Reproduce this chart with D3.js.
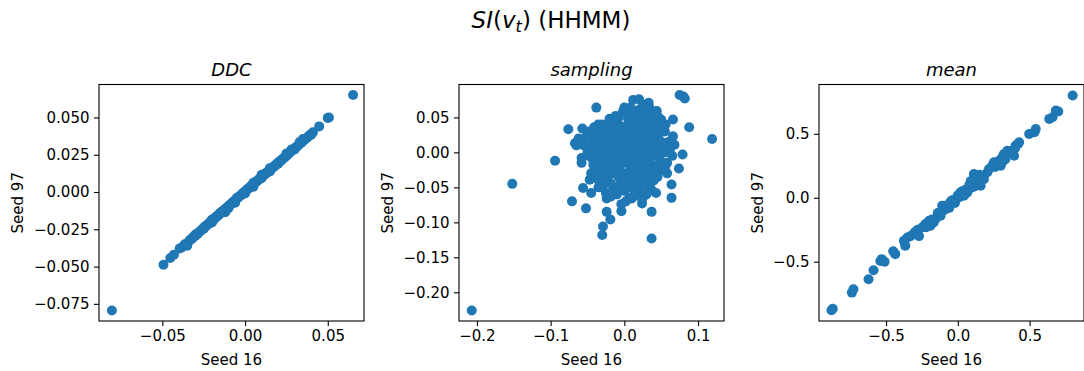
<!DOCTYPE html>
<html>
<head>
<meta charset="utf-8">
<script src="https://cdn.jsdelivr.net/npm/d3@7"></script>
<style>
  body { margin: 0; background: #fff; }
  svg { font-family: "DejaVu Sans", sans-serif; }
</style>
</head>
<body>
<figure id="fig" style="margin:0"></figure>
<script>
// panel titles and axis text
const panelTitles = ["DDC", "sampling", "mean"];
const xLabel = "Seed 16";
const yLabel = "Seed 97";

// tick values per panel
const xTicks = [[-0.05, 0, 0.05], [-0.2, -0.1, 0, 0.1], [-0.5, 0, 0.5]];
const yTicks = [
  [-0.075, -0.05, -0.025, 0, 0.025, 0.05],
  [-0.2, -0.15, -0.1, -0.05, 0, 0.05],
  [-0.5, 0, 0.5]
];
const xFormats = [".2f", ".1f", ".1f"];
const yFormats = [".3f", ".2f", ".1f"];

// visible axis ranges
const xDomains = [[-0.0883, 0.0719], [-0.2243, 0.1352], [-0.967, 0.879]];
const yDomains = [[-0.0865, 0.0721], [-0.241, 0.097], [-0.964, 0.886]];

// DDC: seed 16 vs seed 97
const ddcPoints = [
  [-0.0805,-0.0795],[-0.0493,-0.0488],[-0.0452,-0.0443],[-0.0430,-0.0420],[-0.0395,-0.0378],
  [-0.0382,-0.0372],[-0.0365,-0.0350],[-0.0352,-0.0347],[-0.0340,-0.0332],[-0.0331,-0.0318],
  [-0.0320,-0.0313],[-0.0312,-0.0300],[-0.0301,-0.0295],[-0.0293,-0.0282],[-0.0285,-0.0280],
  [-0.0276,-0.0265],[-0.0268,-0.0262],[-0.0259,-0.0250],[-0.0250,-0.0246],[-0.0243,-0.0232],
  [-0.0236,-0.0230],[-0.0228,-0.0218],[-0.0220,-0.0214],[-0.0213,-0.0203],[-0.0205,-0.0200],
  [-0.0198,-0.0190],[-0.0190,-0.0185],[-0.0183,-0.0175],[-0.0176,-0.0170],[-0.0169,-0.0160],
  [-0.0161,-0.0157],[-0.0154,-0.0146],[-0.0147,-0.0143],[-0.0140,-0.0131],[-0.0133,-0.0128],
  [-0.0125,-0.0119],[-0.0118,-0.0113],[-0.0111,-0.0104],[-0.0104,-0.0100],[-0.0097,-0.0090],
  [-0.0090,-0.0086],[-0.0082,-0.0076],[-0.0075,-0.0071],[-0.0068,-0.0062],[-0.0061,-0.0058],
  [-0.0054,-0.0047],[-0.0047,-0.0044],[-0.0040,-0.0034],[-0.0033,-0.0030],[-0.0025,-0.0020],
  [-0.0018,-0.0016],[-0.0011,-0.0005],[-0.0004,-0.0002],[0.0003,0.0008],[0.0010,0.0012],
  [0.0017,0.0022],[0.0024,0.0025],[0.0031,0.0036],[0.0038,0.0039],[0.0045,0.0050],
  [0.0052,0.0053],[0.0059,0.0063],[0.0066,0.0066],[0.0073,0.0077],[0.0080,0.0079],
  [0.0087,0.0090],[0.0094,0.0093],[0.0101,0.0104],[0.0108,0.0106],[0.0115,0.0117],
  [0.0122,0.0119],[0.0129,0.0130],[0.0136,0.0132],[0.0143,0.0144],[0.0150,0.0146],
  [0.0157,0.0157],[0.0164,0.0159],[0.0171,0.0170],[0.0178,0.0172],[0.0185,0.0183],
  [0.0192,0.0186],[0.0199,0.0196],[0.0206,0.0199],[0.0213,0.0209],[0.0220,0.0212],
  [0.0228,0.0223],[0.0236,0.0228],[0.0244,0.0238],[0.0252,0.0244],[0.0262,0.0256],
  [0.0275,0.0268],[0.0290,0.0283],[0.0300,0.0291],[0.0310,0.0303],[0.0320,0.0311],
  [0.0330,0.0322],[0.0340,0.0331],[0.0350,0.0341],[0.0362,0.0352],[0.0375,0.0364],
  [0.0387,0.0378],[0.0398,0.0388],[0.0410,0.0400],[0.0448,0.0440],[0.0500,0.0497],
  [0.0507,0.0500],[0.0653,0.0650],[-0.0120,-0.0135],[0.0050,0.0035],[0.0100,0.0115],
  [-0.0200,-0.0185],[0.0150,0.0138],[-0.0060,-0.0072],
  [-0.0300,-0.0285],[-0.0250,-0.0238],[-0.0200,-0.0205],[-0.0150,-0.0140],[-0.0100,-0.0108],
  [-0.0050,-0.0040],[0.0000,-0.0010],[0.0050,0.0062],[0.0100,0.0092],[0.0150,0.0160],
  [0.0200,0.0190],[0.0250,0.0258],[0.0300,0.0285],[0.0350,0.0355],[0.0400,0.0385],
  [-0.0350,-0.0360],[0.0330,0.0335],[0.0280,0.0285]
];

// sampling: seed 16 vs seed 97
const samplingPoints = [
  [-0.207,-0.226],[-0.152,-0.045],[-0.094,-0.012],[-0.076,0.033],[-0.038,0.064],
  [-0.071,-0.070],[-0.052,-0.080],[-0.030,-0.118],[-0.029,-0.106],[-0.024,-0.085],
  [-0.019,-0.096],[-0.004,-0.084],[0.037,-0.123],[0.037,-0.085],[0.064,-0.065],
  [0.064,-0.046],[0.074,-0.023],[0.079,-0.003],[0.088,0.036],[0.119,0.019],
  [0.075,0.082],[0.080,0.080],[0.082,0.077],[0.012,0.075],[0.020,0.076],
  [0.033,0.071],[0.066,0.047],[0.000,0.064],[0.035,-0.030],[0.034,-0.045],
  [0.033,-0.055],[0.024,-0.073],[0.010,-0.066],[-0.004,-0.074],[-0.024,-0.066],
  [-0.045,-0.058],[-0.056,-0.051],[-0.047,-0.039],[-0.058,-0.015],[-0.067,0.013],
  [-0.062,0.020],[-0.057,0.034],[-0.041,0.036],[-0.020,0.048],[0.044,0.059],
  [0.050,0.047],[0.052,0.030],[0.066,0.023],[0.068,0.011],[0.061,0.004],
  [0.055,-0.022],
  [0.000,0.000],[0.010,0.005],[-0.010,0.008],[0.005,-0.012],[-0.015,-0.005],
  [0.020,0.010],[-0.020,0.015],[0.015,-0.020],[-0.005,0.025],[0.025,-0.008],
  [-0.025,-0.015],[0.030,0.020],[-0.030,0.005],[0.008,0.030],[-0.012,-0.025],
  [0.035,-0.015],[-0.035,-0.010],[0.018,0.035],[-0.018,0.032],[0.040,0.005],
  [-0.040,0.010],[0.002,-0.030],[0.028,-0.028],[-0.028,-0.030],[0.045,0.025],
  [-0.045,0.020],[0.012,0.042],[-0.008,0.040],[0.032,0.038],[-0.032,0.028],
  [0.048,-0.010],[-0.048,-0.005],[0.022,-0.038],[-0.022,-0.040],[0.005,0.048],
  [0.038,-0.030],[-0.038,-0.025],[0.050,0.015],[-0.050,0.000],[0.015,0.050],
  [-0.002,0.015],[0.006,0.018],[-0.006,-0.018],[0.012,-0.006],[-0.012,0.002],
  [0.024,0.024],[-0.024,0.000],[0.003,0.008],[0.017,0.000],[-0.017,-0.012],
  [0.027,0.004],[-0.027,0.022],[0.009,-0.022],[-0.009,0.020],[0.036,0.012],
  [-0.036,0.018],[0.001,0.036],[0.042,-0.020],[-0.042,-0.018],[0.021,0.018],
  [-0.004,-0.008],[0.014,0.026],[-0.014,0.024],[0.031,-0.004],[-0.031,-0.020],
  [0.044,0.040],[-0.010,0.045],[0.026,0.046],[0.055,0.000],[0.055,0.030],
  [0.058,-0.015],[0.060,0.015],[-0.055,0.010],[-0.052,0.022],[-0.058,-0.008],
  [-0.045,-0.030],[-0.040,-0.035],[0.040,-0.040],[0.032,-0.045],[0.010,-0.040],
  [-0.005,-0.045],[0.000,-0.055],[0.012,-0.052],[-0.015,-0.050],[0.020,-0.055],
  [-0.028,-0.045],[0.045,-0.035],[0.050,-0.025],[0.005,0.055],[0.018,0.060],
  [0.030,0.055],[-0.002,0.058],[0.040,0.050],[-0.020,0.045],[0.048,0.045],
  [0.056,0.040],[-0.030,0.040],[0.062,0.005],[0.065,-0.005],[0.058,-0.030],
  [0.007,-0.065],[-0.010,-0.060],[0.025,-0.065],[-0.025,-0.058],[-0.035,-0.050],
  [0.036,-0.052],[0.043,-0.058],[0.002,-0.070],[-0.018,-0.063],[0.015,-0.048],
  [0.028,-0.020],[-0.008,-0.035],[0.008,-0.032],[0.033,0.030],[-0.016,0.038],
  [0.004,0.022],[0.020,0.040],[0.038,0.022],[-0.038,0.000],[-0.046,0.008],
  [0.046,-0.002],[0.052,0.008],[-0.022,-0.022],[0.016,-0.030],[-0.032,-0.035],
  [0.024,-0.046],[-0.048,0.030],[-0.060,0.018],[-0.065,0.010],[0.034,0.064],
  [0.022,0.062],[0.008,0.064],[-0.012,0.052],[0.048,0.028],[0.028,0.045],
  [-0.035,0.040],[-0.025,0.035],[-0.015,0.030],[-0.005,0.035],[0.005,0.040],
  [0.015,0.032],[0.025,0.035],[0.035,0.045],[0.042,0.032],[-0.040,0.025],
  [-0.030,0.018],[-0.020,0.022],[-0.010,0.015],[0.000,0.020],[0.010,0.018],
  [0.020,0.025],[0.030,0.010],[0.040,0.015],[0.050,0.030],[-0.045,0.002],
  [-0.035,0.008],[-0.025,0.010],[-0.015,0.005],[-0.005,0.005],[0.005,0.010],
  [0.015,0.008],[0.025,0.012],[0.035,0.002],[0.045,0.010],[-0.043,-0.010],
  [-0.033,-0.005],[-0.023,-0.008],[-0.013,-0.012],[-0.003,-0.002],[0.007,-0.005],
  [0.017,-0.010],[0.027,-0.015],[0.037,-0.005],[0.047,-0.018],[-0.040,-0.020],
  [-0.030,-0.025],[-0.020,-0.018],[-0.010,-0.020],[0.000,-0.015],[0.010,-0.025],
  [0.020,-0.020],[0.030,-0.035],[0.040,-0.025],[-0.035,-0.040],[-0.025,-0.035],
  [-0.015,-0.030],[-0.005,-0.028],[0.005,-0.038],[0.015,-0.040],[0.025,-0.030],
  [0.035,-0.040],[-0.030,-0.050],[-0.018,-0.045],[-0.008,-0.050],[0.003,-0.045],
  [0.018,-0.062],[0.030,-0.060],[0.010,0.058],[-0.008,0.050],[0.020,0.050],
  [0.035,0.058],[0.045,0.052],[0.025,0.068],[0.003,0.062]
];

// mean: seed 16 vs seed 97
const meanPoints = [
  [-0.871,-0.868],[-0.880,-0.880],[-0.738,-0.742],[-0.727,-0.716],[-0.622,-0.637],
  [-0.587,-0.567],[-0.540,-0.494],[-0.530,-0.480],[-0.510,-0.500],[-0.436,-0.441],
  [-0.450,-0.418],[-0.366,-0.376],[-0.376,-0.337],[-0.350,-0.310],[-0.330,-0.300],
  [-0.270,-0.300],[-0.249,-0.233],[-0.226,-0.206],[-0.191,-0.219],[-0.156,-0.167],
  [-0.133,-0.141],[-0.168,-0.193],[-0.121,-0.115],[-0.109,-0.063],[-0.086,-0.089],
  [-0.063,-0.063],[-0.039,-0.037],[-0.016,-0.010],[0.007,0.003],[0.019,0.042],
  [0.042,0.016],[0.066,0.042],[0.077,0.081],[0.101,0.107],[0.112,0.186],
  [0.136,0.172],[0.147,0.120],[0.159,0.094],[0.182,0.146],[0.206,0.199],
  [0.240,0.251],[0.252,0.277],[0.287,0.290],[0.310,0.316],[0.334,0.342],
  [0.345,0.368],[0.380,0.368],[0.403,0.408],[0.427,0.434],[0.392,0.329],
  [0.299,0.251],[0.217,0.225],[0.497,0.499],[0.543,0.538],[0.534,0.512],
  [0.637,0.617],[0.660,0.630],[0.683,0.682],[0.700,0.675],[0.800,0.800],
  [-0.200,-0.180],[-0.100,-0.100],[-0.050,-0.030],[0.030,0.030],[0.090,0.080],
  [0.120,0.130],[0.170,0.160],[0.120,0.090],[-0.020,-0.040],[0.050,0.060],
  [-0.300,-0.270],[-0.280,-0.250],[-0.220,-0.230],[-0.180,-0.170],[-0.140,-0.120],
  [-0.120,-0.140],[-0.080,-0.060],[-0.060,-0.080],[-0.040,-0.020],[-0.020,-0.020],
  [0.000,0.020],[0.030,0.050],[0.050,0.030],[0.080,0.100],[0.100,0.080],
  [0.110,0.140],[0.130,0.110],[0.140,0.150],[0.150,0.180],[0.090,0.130],
  [0.260,0.240],[0.280,0.260],[0.320,0.340],[0.360,0.360],[0.400,0.390],
  [0.420,0.420],[0.330,0.300],[0.310,0.280]
];

const allPoints = [ddcPoints, samplingPoints, meanPoints];

const width = 1084;
const height = 371;
const panelLeft = [99, 459, 819];
const panelWidth = 265;
const plotTop = 84.5;
const plotBottom = 321;
const color = "#1f77b4";
const fontSize = 15;

const svg = d3.select("figure#fig")
  .append("svg")
  .attr("width", width)
  .attr("height", height);

// suptitle with the math part in italics
const sup = svg.append("text")
  .attr("x", 551)
  .attr("y", 27.5)
  .attr("text-anchor", "middle")
  .style("font-size", "23px");
sup.append("tspan").style("font-style", "italic").text("SI");
sup.append("tspan").text("(");
sup.append("tspan").style("font-style", "italic").text("v");
sup.append("tspan").style("font-style", "italic").style("font-size", "16px").attr("dy", 4).text("t");
sup.append("tspan").attr("dy", -4).text(") (HHMM)");

const fmtMinus = f => v => d3.format(f)(v).replace("-", "\u2212");

allPoints.forEach((pts, i) => {
  const x0 = panelLeft[i];
  const x = d3.scaleLinear().domain(xDomains[i]).range([x0, x0 + panelWidth]);
  const y = d3.scaleLinear().domain(yDomains[i]).range([plotBottom, plotTop]);

  const g = svg.append("g");

  g.append("g")
    .selectAll("circle")
    .data(pts)
    .enter()
    .append("circle")
    .attr("cx", d => x(d[0]))
    .attr("cy", d => y(d[1]))
    .attr("r", 5)
    .style("fill", color);

  // x axis
  const xa = g.append("g")
    .attr("transform", "translate(0," + plotBottom + ")")
    .call(d3.axisBottom(x).tickValues(xTicks[i]).tickFormat(fmtMinus(xFormats[i])).tickSize(5).tickPadding(4.5));
  // y axis
  const ya = g.append("g")
    .attr("transform", "translate(" + x0 + ",0)")
    .call(d3.axisLeft(y).tickValues(yTicks[i]).tickFormat(fmtMinus(yFormats[i])).tickSize(5).tickPadding(4.5));

  [xa, ya].forEach(a => {
    a.select(".domain").remove();
    a.selectAll("line").attr("stroke", "#000").attr("stroke-width", 1.1);
    a.selectAll("text")
      .attr("fill", "#000")
      .style("font-size", fontSize + "px")
      .style("font-family", "DejaVu Sans");
  });

  // frame
  g.append("rect")
    .attr("x", x0)
    .attr("y", plotTop)
    .attr("width", panelWidth)
    .attr("height", plotBottom - plotTop)
    .attr("fill", "none")
    .attr("stroke", "#000")
    .attr("stroke-width", 1.1);

  // titles and labels
  g.append("text")
    .attr("x", x0 + panelWidth / 2)
    .attr("y", 75.7)
    .attr("text-anchor", "middle")
    .style("font-size", "18px")
    .style("font-style", "italic")
    .text(panelTitles[i]);

  g.append("text")
    .attr("x", x0 + panelWidth / 2)
    .attr("y", 364.5)
    .attr("text-anchor", "middle")
    .style("font-size", fontSize + "px")
    .text(xLabel);

  const yl = [22.5, 392.5, 762.5][i];
  g.append("text")
    .attr("transform", "translate(" + yl + "," + ((plotTop + plotBottom) / 2) + ")rotate(-90)")
    .attr("text-anchor", "middle")
    .style("font-size", fontSize + "px")
    .text(yLabel);
});
</script>
</body>
</html>
